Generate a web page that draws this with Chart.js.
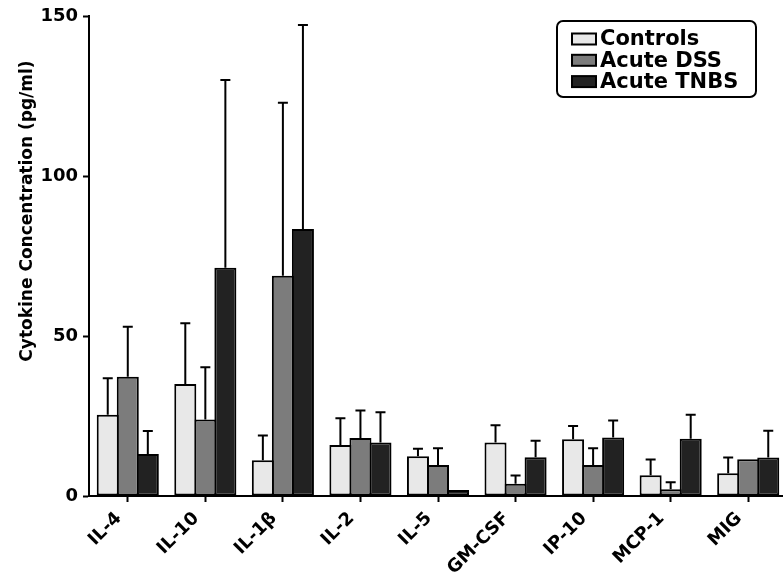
<!DOCTYPE html>
<html>
<head>
<meta charset="utf-8">
<script src="https://cdn.jsdelivr.net/npm/chart.js@4/dist/chart.umd.min.js"></script>
<style>
html, body { margin: 0; padding: 0; overflow: hidden; background: #fff; }
#wrap { width: 791px; height: 579px; }
</style>
</head>
<body>
<div id="wrap"><canvas id="chart" width="791" height="579"></canvas></div>
<script>
var cytokines = ['IL-4', 'IL-10', 'IL-1β', 'IL-2', 'IL-5', 'GM-CSF', 'IP-10', 'MCP-1', 'MIG'];
var seriesNames = ['Controls', 'Acute DSS', 'Acute TNBS'];
var controlsMean = [25.4, 35.0, 11.2, 15.9, 12.4, 16.7, 17.7, 6.5, 7.1];
var controlsSd   = [11.4, 19.0, 7.7, 8.4, 2.4, 5.4, 4.2, 4.9, 4.9];
var dssMean = [37.3, 23.9, 68.8, 18.1, 9.7, 3.8, 9.7, 2.1, 11.5];
var dssSd   = [15.6, 16.3, 54.1, 8.6, 5.2, 2.6, 5.2, 2.2, 0];
var tnbsMean = [13.1, 71.3, 83.4, 16.7, 1.9, 12.1, 18.3, 17.9, 12.0];
var tnbsSd   = [7.2, 58.7, 63.8, 9.5, 0, 5.2, 5.3, 7.5, 8.4];
var yTicks = [0, 50, 100, 150];
var yTitle = 'Cytokine Concentration (pg/ml)';

var fontFamily = '"DejaVu Sans", sans-serif';

// one-sided (upper) error bars
var errorBars = {
  id: 'errorBars',
  afterDatasetsDraw: function(chart) {
    var ctx = chart.ctx;
    var y = chart.scales.y;
    chart.data.datasets.forEach(function(ds, i) {
      var meta = chart.getDatasetMeta(i);
      meta.data.forEach(function(bar, j) {
        var sd = ds.sd[j];
        if (!sd) return;
        var top = y.getPixelForValue(ds.data[j] + sd);
        ctx.save();
        ctx.strokeStyle = '#000';
        ctx.lineWidth = 2;
        ctx.beginPath();
        ctx.moveTo(bar.x, bar.y);
        ctx.lineTo(bar.x, top);
        ctx.moveTo(bar.x - 5, top);
        ctx.lineTo(bar.x + 5, top);
        ctx.stroke();
        ctx.restore();
      });
    });
  }
};

// boxed legend in the top right + rotated y title
var boxLegend = {
  id: 'boxLegend',
  afterDraw: function(chart) {
    var ctx = chart.ctx;
    ctx.save();
    ctx.lineWidth = 2;
    ctx.strokeStyle = '#000';
    ctx.beginPath();
    ctx.roundRect(557, 21, 199, 76, 6);
    ctx.stroke();
    ctx.font = 'bold 21px ' + fontFamily;
    ctx.textBaseline = 'middle';
    chart.data.datasets.forEach(function(ds, i) {
      var cy = 39 + i * 21.3;
      ctx.fillStyle = ds.backgroundColor;
      ctx.fillRect(572, cy - 5.5, 24, 11);
      ctx.strokeRect(572, cy - 5.5, 24, 11);
      ctx.fillStyle = '#000';
      ctx.fillText(ds.label, 600, cy + 1);
    });

    ctx.translate(28, 211);
    ctx.rotate(-Math.PI / 2);
    ctx.font = 'bold 17px ' + fontFamily;
    ctx.textAlign = 'center';
    ctx.textBaseline = 'middle';
    ctx.fillStyle = '#000';
    ctx.fillText(yTitle, 0, 0);
    ctx.restore();
  }
};

function makeDataset(label, values, sd, color) {
  return {
    label: label,
    data: values,
    sd: sd,
    backgroundColor: color,
    borderColor: '#000',
    borderWidth: 2,
    borderSkipped: false,
    categoryPercentage: 0.775,
    barPercentage: 1.1
  };
}

new Chart(document.getElementById('chart'), {
  type: 'bar',
  data: {
    labels: cytokines,
    datasets: [
      makeDataset(seriesNames[0], controlsMean, controlsSd, '#e8e8e8'),
      makeDataset(seriesNames[1], dssMean, dssSd, '#7c7c7c'),
      makeDataset(seriesNames[2], tnbsMean, tnbsSd, '#222222')
    ]
  },
  options: {
    responsive: false,
    animation: false,
    layout: { padding: { left: 0, top: 16, right: 4, bottom: 0 } },
    plugins: {
      legend: { display: false },
      tooltip: { enabled: false }
    },
    scales: {
      x: {
        grid: { display: true, drawOnChartArea: false, offset: false, tickLength: 6, tickWidth: 2, tickColor: '#000' },
        border: { display: true, color: '#000', width: 2 },
        ticks: {
          color: '#000',
          font: { family: fontFamily, weight: 'bold', size: 18 },
          maxRotation: 45,
          minRotation: 45,
          padding: 6,
          labelOffset: -9
        },
        afterFit: function(scale) { scale.height = 83; }
      },
      y: {
        min: 0,
        max: 150,
        afterBuildTicks: function(scale) {
          scale.ticks = yTicks.map(function(v) { return { value: v }; });
        },
        grid: { display: true, drawOnChartArea: false, tickLength: 6, tickWidth: 2, tickColor: '#000' },
        border: { display: true, color: '#000', width: 2 },
        ticks: {
          color: '#000',
          font: { family: fontFamily, weight: 'bold', size: 18 },
          padding: 5
        },
        afterFit: function(scale) { scale.width = 89; }
      }
    }
  },
  plugins: [errorBars, boxLegend]
});
</script>
</body>
</html>
